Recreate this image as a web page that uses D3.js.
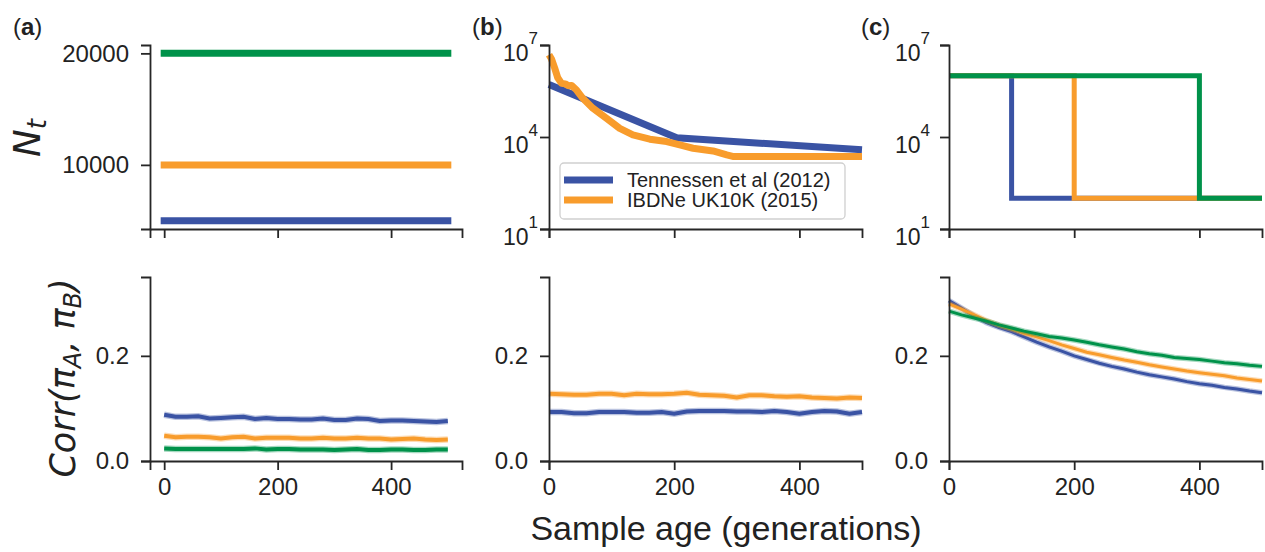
<!DOCTYPE html>
<html lang="en">
<head>
<meta charset="UTF-8">
<title>Sample age vs correlation</title>
<script src="https://cdn.jsdelivr.net/npm/d3@7"></script>
<style>
  body { margin: 0; background: #fff; }
  text { font-family: "Liberation Sans", Arial, Helvetica, sans-serif; fill: #222; }
  .math { font-family: "DejaVu Sans", sans-serif; font-style: italic; }
  .domain, .tick line { stroke: #262626; stroke-width: 1.8px; }
  .tick text { font-size: 24px; fill: #222; }
</style>
</head>
<body>
<svg id="fig" width="1265" height="552"></svg>
<script>
const colors = { blue: "#3a53a4", orange: "#f89c2c", green: "#00924a" };

// (a) constant population sizes
const aSeries = ["blue", "orange", "green"];
const aSizes = [5000, 10000, 20000];

// (b) demographic models
const tennGen = [0, 204, 500];
const tennN = [512000, 9475, 3815];
const ibdGen = [0, 4, 9, 14, 20, 26, 31, 36, 44, 54, 70, 92, 113, 134, 161, 188, 209, 230, 262, 284, 295, 500];
const ibdN = [4800000, 3500000, 1800000, 850000, 560000, 540000, 470000, 480000, 340000, 182000, 87000, 40700,
              19100, 11700, 8500, 7100, 5500, 4300, 3500, 2600, 2300, 2300];

// (c) instantaneous crashes
const cSeries = ["blue", "orange", "green"];
const cDropGen = [100, 200, 400];
const cHigh = 1000000;
const cLow = 100;

// bottom row: correlation vs sample age
const corrGen = [0, 20, 40, 60, 80, 100, 120, 140, 160, 180, 200, 220, 240, 260, 280, 300, 320, 340, 360, 380, 400, 420, 440, 460, 480, 500];
const corrA = {
  blue:   [0.088, 0.084, 0.084, 0.085, 0.081, 0.082, 0.083, 0.084, 0.080, 0.082, 0.080, 0.080, 0.079, 0.079, 0.081, 0.078, 0.078, 0.081, 0.080, 0.076, 0.077, 0.077, 0.076, 0.075, 0.074, 0.076],
  orange: [0.048, 0.045, 0.046, 0.046, 0.045, 0.043, 0.045, 0.046, 0.043, 0.044, 0.044, 0.044, 0.043, 0.043, 0.044, 0.043, 0.043, 0.044, 0.043, 0.043, 0.041, 0.042, 0.043, 0.041, 0.040, 0.041],
  green:  [0.024, 0.023, 0.023, 0.023, 0.023, 0.023, 0.023, 0.023, 0.024, 0.022, 0.023, 0.023, 0.022, 0.022, 0.022, 0.021, 0.022, 0.023, 0.021, 0.021, 0.022, 0.022, 0.021, 0.021, 0.022, 0.022]
};
const corrB = {
  blue:   [0.093, 0.093, 0.091, 0.091, 0.093, 0.093, 0.093, 0.092, 0.092, 0.093, 0.090, 0.094, 0.095, 0.095, 0.095, 0.094, 0.094, 0.093, 0.095, 0.093, 0.090, 0.093, 0.095, 0.094, 0.090, 0.093],
  orange: [0.128, 0.127, 0.126, 0.126, 0.128, 0.128, 0.125, 0.128, 0.127, 0.127, 0.128, 0.130, 0.126, 0.125, 0.124, 0.121, 0.125, 0.125, 0.123, 0.122, 0.123, 0.121, 0.120, 0.119, 0.121, 0.120]
};
const corrC = {
  blue:   [0.305, 0.291, 0.276, 0.263, 0.254, 0.246, 0.236, 0.226, 0.217, 0.209, 0.200, 0.193, 0.186, 0.180, 0.175, 0.169, 0.164, 0.160, 0.156, 0.151, 0.147, 0.144, 0.140, 0.137, 0.133, 0.130],
  orange: [0.299, 0.289, 0.278, 0.267, 0.258, 0.251, 0.243, 0.236, 0.229, 0.221, 0.214, 0.207, 0.202, 0.197, 0.192, 0.188, 0.183, 0.179, 0.175, 0.171, 0.168, 0.165, 0.162, 0.158, 0.155, 0.152],
  green:  [0.285, 0.278, 0.272, 0.266, 0.259, 0.253, 0.247, 0.242, 0.237, 0.234, 0.230, 0.226, 0.221, 0.217, 0.213, 0.208, 0.204, 0.201, 0.197, 0.195, 0.193, 0.190, 0.187, 0.185, 0.182, 0.180]
};

const legendLabels = ["Tennessen et al (2012)", "IBDNe UK10K (2015)"];

const svg = d3.select("#fig");
const cols = [[150, 462], [549, 862], [949, 1262]];
const rows = [[45, 229], [277, 461]];

function makeX(c, domain) { return d3.scaleLinear().domain(domain).range(cols[c]); }

// axes helpers
function drawXAxis(x, r, labels) {
  const ax = d3.axisBottom(x).tickValues([0, 200, 400]).tickSize(9).tickPadding(8)
    .tickFormat(labels ? d3.format("d") : "");
  svg.append("g").attr("transform", `translate(0,${rows[r][1]})`).call(ax);
}
function drawYAxis(y, c, values, fmt) {
  const ax = d3.axisLeft(y).tickValues(values).tickSize(9).tickPadding(12).tickFormat(fmt);
  svg.append("g").attr("transform", `translate(${cols[c][0]},0)`).call(ax);
}
function drawLogYAxis(y, c, gap) {
  const ax = d3.axisLeft(y).tickValues([10, 1e4, 1e7]).tickSize(9).tickFormat("");
  const g = svg.append("g").attr("transform", `translate(${cols[c][0]},0)`).call(ax);
  g.selectAll(".tick").each(function(d) {
    const t = d3.select(this).append("text")
      .attr("x", -9 - gap).attr("y", 15).attr("text-anchor", "end")
      .style("font-size", "23px");
    t.append("tspan").text("10");
    t.append("tspan").attr("dy", -17).style("font-size", "17px").text(Math.round(Math.log10(d)));
  });
}

// ---------- (a) top ----------
const xa = makeX(0, [-25, 525]);
const ya = d3.scaleLinear().domain([4250, 20750]).range([rows[0][1], rows[0][0]]);
aSeries.forEach((s, i) => {
  svg.append("path")
    .datum([[0, aSizes[i]], [500, aSizes[i]]])
    .attr("d", d3.line().x(d => xa(d[0])).y(d => ya(d[1])))
    .attr("fill", "none").attr("stroke", colors[s]).attr("stroke-width", 7)
    .attr("stroke-linecap", "square");
});
drawXAxis(xa, 0, false);
drawYAxis(ya, 0, [10000, 20000], d3.format("d"));

// ---------- (b) top ----------
const xb = makeX(1, [0, 500]);
const yLog = d3.scaleLog().domain([10, 1e7]).range([rows[0][1], rows[0][0]]);
const lineB = d3.line().x(d => xb(d[0])).y(d => yLog(d[1]));
svg.append("path").datum(tennGen.map((g, i) => [g, tennN[i]]))
  .attr("d", lineB).attr("fill", "none").attr("stroke", colors.blue).attr("stroke-width", 7);
svg.append("path").datum(ibdGen.map((g, i) => [g, ibdN[i]]))
  .attr("d", lineB).attr("fill", "none").attr("stroke", colors.orange).attr("stroke-width", 7)
  .attr("stroke-linejoin", "round");
drawXAxis(xb, 0, false);
drawLogYAxis(yLog, 1, 2);

// legend
const lg = svg.append("g").attr("transform", "translate(560,163)");
lg.append("rect").attr("width", 285).attr("height", 56).attr("rx", 4)
  .attr("fill", "#fff").attr("fill-opacity", 0.8).attr("stroke", "#cfcfcf").attr("stroke-width", 1.3);
["blue", "orange"].forEach((s, i) => {
  lg.append("line").attr("x1", 4).attr("x2", 53).attr("y1", 17 + i * 20).attr("y2", 17 + i * 20)
    .attr("stroke", colors[s]).attr("stroke-width", 7);
  lg.append("text").attr("x", 67).attr("y", 24 + i * 20).style("font-size", "20px").text(legendLabels[i]);
});

// ---------- (c) top ----------
const xc = makeX(2, [0, 500]);
const lineC = d3.line().x(d => xc(d[0])).y(d => yLog(d[1]));
cSeries.forEach((s, i) => {
  const g = cDropGen[i];
  svg.append("path").datum([[0, cHigh], [g, cHigh], [g, cLow], [500, cLow]])
    .attr("d", lineC).attr("fill", "none").attr("stroke", colors[s]).attr("stroke-width", 5);
});
drawXAxis(xc, 0, false);
drawLogYAxis(yLog, 2, 10);

// ---------- bottom row ----------
const yCorr = d3.scaleLinear().domain([0, 0.35]).range([rows[1][1], rows[1][0]]);
function corrLines(x, series, width) {
  const line = d3.line().x((d, i) => x(corrGen[i])).y(d => yCorr(d));
  Object.keys(series).forEach(s => {
    svg.append("path").datum(series[s]).attr("d", line).attr("fill", "none")
      .attr("stroke", colors[s]).attr("stroke-opacity", 0.35).attr("stroke-width", width + 2.5);
    svg.append("path").datum(series[s]).attr("d", line).attr("fill", "none")
      .attr("stroke", colors[s]).attr("stroke-width", width);
  });
}
const xa2 = makeX(0, [-25, 525]);
corrLines(xa2, corrA, 4);
drawXAxis(xa2, 1, true);
drawYAxis(yCorr, 0, [0, 0.2], d3.format(".1f"));

corrLines(xb, corrB, 4);
drawXAxis(xb, 1, true);
drawYAxis(yCorr, 1, [0, 0.2], d3.format(".1f"));

corrLines(xc, corrC, 3);
drawXAxis(xc, 1, true);
drawYAxis(yCorr, 2, [0, 0.2], d3.format(".1f"));

// ---------- labels ----------
[["a", 13], ["b", 472], ["c", 861]].forEach(([l, x]) => {
  const t = svg.append("text").attr("x", x).attr("y", 35).style("font-size", "24px");
  t.append("tspan").text("(");
  t.append("tspan").style("font-weight", "bold").text(l);
  t.append("tspan").text(")");
});

const nt = svg.append("text").attr("class", "math")
  .attr("transform", "translate(40,138) rotate(-90)").attr("text-anchor", "middle")
  .style("font-size", "37px");
nt.append("tspan").text("N");
nt.append("tspan").attr("dy", 6).style("font-size", "26px").text("t");

const cr = svg.append("text").attr("class", "math")
  .attr("transform", "translate(75,378) rotate(-90)").attr("text-anchor", "middle")
  .style("font-size", "35px");
cr.append("tspan").text("Corr(π");
cr.append("tspan").attr("dy", 6).style("font-size", "24px").text("A");
cr.append("tspan").attr("dy", -6).text(", π");
cr.append("tspan").attr("dy", 6).style("font-size", "24px").text("B");
cr.append("tspan").attr("dy", -6).text(")");

svg.append("text").attr("x", 726).attr("y", 540).attr("text-anchor", "middle")
  .style("font-size", "34px").text("Sample age (generations)");
</script>
</body>
</html>
